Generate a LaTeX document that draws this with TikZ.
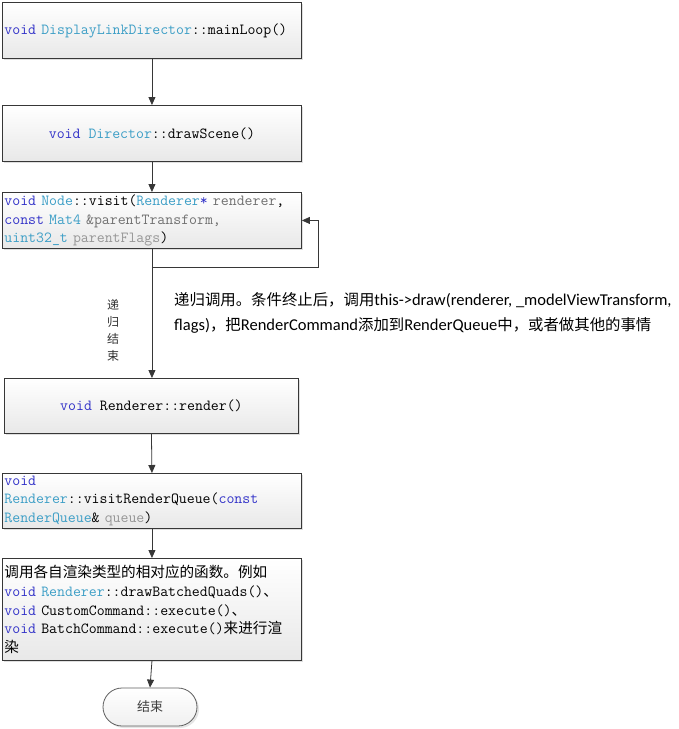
\documentclass[tikz,border=0pt]{standalone}
\usepackage{fontspec}
\setmainfont{Carlito}
\newfontfamily\cjk{Noto Sans CJK SC}
\usetikzlibrary{arrows.meta,shadows,shapes.misc}
\definecolor{kwc}{RGB}{50,50,200}
\definecolor{tyc}{RGB}{60,158,198}
\definecolor{grc}{RGB}{112,112,112}
\definecolor{lgc}{RGB}{150,150,150}
\definecolor{linec}{RGB}{55,55,55}
\newcommand{\ckw}[1]{\textcolor{kwc}{#1}}
\newcommand{\cty}[1]{\textcolor{tyc}{#1}}
\newcommand{\cgr}[1]{\textcolor{grc}{#1}}
\newcommand{\clg}[1]{\textcolor{lgc}{#1}}
\newcommand{\ccjk}[1]{{\cjk\fontsize{14.6}{18.6}\selectfont #1}}
\newcommand{\acjk}[1]{{\cjk\fontsize{15.4}{25}\selectfont #1}}
\begin{document}
\begin{tikzpicture}[x=1pt,y=-1pt,
  codebox/.style={draw=linec, line width=0.9pt, top color=white, bottom color=black!9,
    drop shadow={shadow xshift=2pt, shadow yshift=-2pt, opacity=0.25, fill=gray},
    minimum width=299pt, minimum height=56pt, inner sep=0pt,
    font=\ttfamily\fontsize{15.4}{18.6}\selectfont, anchor=north west},
  leftbox/.style={codebox, text width=295pt, align=left},
  arr/.style={draw=linec, line width=0.8pt, -{Triangle[length=8pt,width=7pt]}}]
\useasboundingbox (0,0) rectangle (679,729);
\fill[white] (0,0) rectangle (679,729);

\node[leftbox] (b1) at (2,2) {\ckw{void} \cty{DisplayLinkDirector}::mainLoop()};
\node[codebox, align=center] (b2) at (2,105) {\ckw{void} \cty{Director}::drawScene()};
\node[leftbox] (b3) at (2,192) {\ckw{void} \cty{Node}::visit(\cty{Renderer}\ckw{*} \cgr{renderer},\\
\ckw{const} \cty{Mat4} \cgr{\&parentTransform,}\\
\cty{uint32\_t} \clg{parentFlags})};
\node[codebox, align=center, minimum width=294pt, minimum height=55pt] (b4) at (4,378) {\ckw{void} Renderer::render()};
\node[leftbox, minimum height=55pt] (b5) at (2,473) {\ckw{void}\\
\cty{Renderer}::visitRenderQueue(\ckw{const}\\
\cty{RenderQueue}\& \clg{queue})};
\node[leftbox, minimum height=102pt] (b6) at (2,558) {\ccjk{调用各自渲染类型的相对应的函数。例如}\\
\ckw{void} \cty{Renderer}::drawBatchedQuads()\ccjk{、}\\
\ckw{void} CustomCommand::execute()\ccjk{、}\\
\ckw{void} BatchCommand::execute()\ccjk{来进行渲}\\
\ccjk{染}};
\node[rounded rectangle, draw=linec!80, line width=0.8pt, top color=white, bottom color=black!6,
  drop shadow={shadow xshift=2pt, shadow yshift=-2pt, opacity=0.2, fill=gray},
  minimum width=94pt, minimum height=38pt, inner sep=0pt,
  font=\cjk\fontsize{13}{15}\selectfont, text=black!75] (term) at (150,707) {结束};

\coordinate (lp) at (318,267);
\draw[arr] (b1.south) -- (b2.north);
\draw[arr] (b2.south) -- (b3.north);
\draw[arr] (b3.south) -- (b3.south |- b4.north);
\draw[arr] (b3.south |- lp) -- (lp) |- (b3.east);
\draw[arr] (b4.south) -- (b5.north);
\draw[arr] (b5.south) -- (b6.north);
\draw[arr] (b6.south) -- (term.north);

\node[font=\cjk\fontsize{12}{17}\selectfont, align=center, text=black!80, inner sep=0pt] (lbl) at (113,330) {递\\归\\结\\束};
\node[anchor=west, inner sep=0pt, align=left, font=\fontsize{16.5}{25}\selectfont] (ann) at (174,312.5)
 {\acjk{递归调用。条件终止后，调用}this->draw(renderer, \_modelViewTransform,\\
 flags)\acjk{，把}RenderCommand\acjk{添加到}RenderQueue\acjk{中，或者做其他的事情}};
\end{tikzpicture}
\end{document}
